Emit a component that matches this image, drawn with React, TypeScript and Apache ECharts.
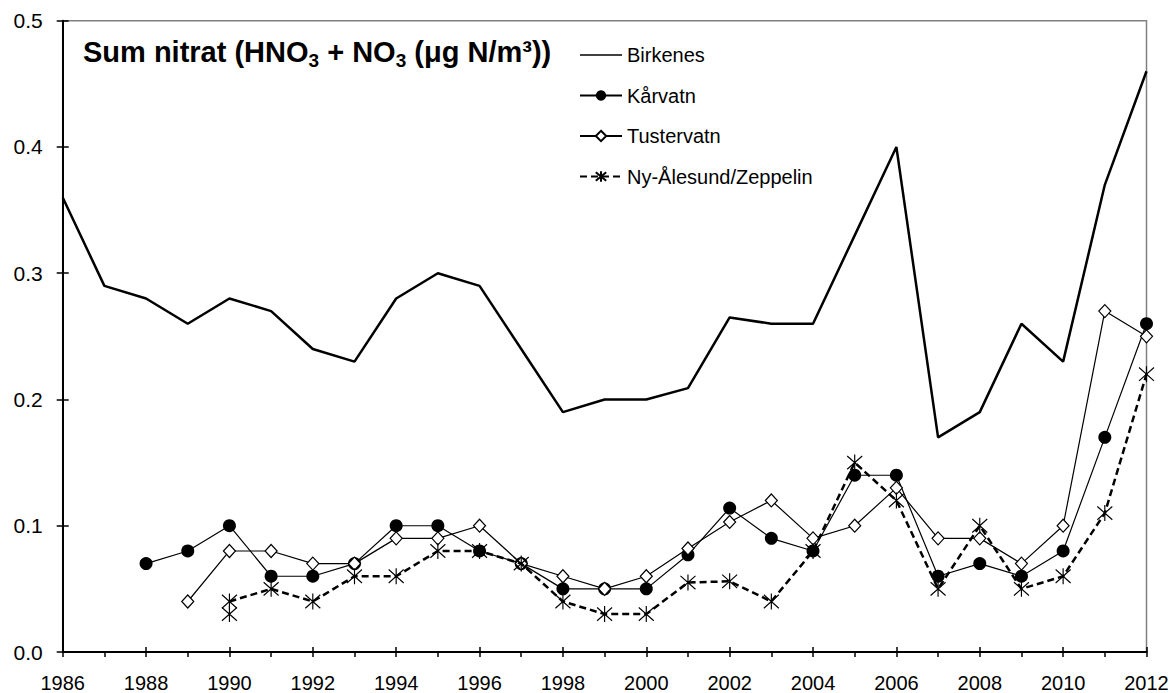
import React, { useEffect, useRef } from "react";
import * as echarts from "echarts";

const years = [1986, 1987, 1988, 1989, 1990, 1991, 1992, 1993, 1994, 1995, 1996, 1997, 1998, 1999, 2000, 2001, 2002, 2003, 2004, 2005, 2006, 2007, 2008, 2009, 2010, 2011, 2012];
const birkenes = [0.36, 0.29, 0.28, 0.26, 0.28, 0.27, 0.24, 0.23, 0.28, 0.30, 0.29, 0.24, 0.19, 0.20, 0.20, 0.209, 0.265, 0.26, 0.26, 0.33, 0.40, 0.17, 0.19, 0.26, 0.23, 0.37, 0.46];
const karvatn = [null, null, 0.07, 0.08, 0.10, 0.06, 0.06, 0.07, 0.10, 0.10, 0.08, 0.07, 0.05, 0.05, 0.05, 0.077, 0.114, 0.09, 0.08, 0.14, 0.14, 0.06, 0.07, 0.06, 0.08, 0.17, 0.26];
const tustervatn = [null, null, null, 0.04, 0.08, 0.08, 0.07, 0.07, 0.09, 0.09, 0.10, 0.07, 0.06, 0.05, 0.06, 0.082, 0.103, 0.12, 0.09, 0.10, 0.13, 0.09, 0.09, 0.07, 0.10, 0.27, 0.25];
const nyAlesund = [null, null, null, null, 0.04, 0.05, 0.04, 0.06, 0.06, 0.08, 0.08, 0.07, 0.04, 0.03, 0.03, 0.055, 0.056, 0.04, 0.08, 0.15, 0.12, 0.05, 0.10, 0.05, 0.06, 0.11, 0.22];
const nyAlesundExtraYears = [1990];
const nyAlesundExtra = [0.03];
const seriesNames = ["Birkenes", "Kårvatn", "Tustervatn", "Ny-Ålesund/Zeppelin"];

const FONT = "'Liberation Sans', Arial, sans-serif";
const ASTERISK = "path://M0,1L10,11M0,11L10,1M5,0L5,12";
const LINE_ICON = "path://M0,0L42,0L42,1.6L0,1.6Z";

function pairs(xs: number[], vals: (number | null)[]) {
  const out: number[][] = [];
  vals.forEach((v, i) => {
    if (v !== null && v !== undefined) out.push([xs[i], v]);
  });
  return out;
}

export default function App() {
  const ref = useRef<HTMLDivElement>(null);
  useEffect(() => {
    document.body.style.margin = "0";
    const chart = echarts.init(ref.current!, null, { renderer: "svg" });
    const common = {
      type: "value",
      min: 1986,
      max: 2012,
      interval: 2,
    };
    const option: any = {
      animation: false,
      backgroundColor: "#ffffff",
      title: {
        left: 78,
        top: 29,
        text: "{b|Sum nitrat (HNO}{s|3}{b| + NO}{s|3}{b| (μg N/m³))}",
        textStyle: {
          rich: {
            b: { fontFamily: FONT, fontWeight: "bold", fontSize: 29, lineHeight: 36, color: "#000" },
            s: { fontFamily: FONT, fontWeight: "bold", fontSize: 19, lineHeight: 14, verticalAlign: "bottom", color: "#000" },
          },
        },
      },
      legend: {
        data: [
          { name: seriesNames[0], icon: LINE_ICON },
          seriesNames[1],
          seriesNames[2],
          seriesNames[3],
        ],
        orient: "vertical",
        left: 579,
        top: 44,
        padding: 0,
        itemWidth: 42,
        itemHeight: 13,
        itemGap: 18.5,
        symbolKeepAspect: true,
        textStyle: { fontFamily: FONT, fontSize: 20, color: "#000", lineHeight: 22 },
      },
      grid: {
        left: 62.7,
        right: 29.5,
        top: 20.7,
        bottom: 40.3,
        show: true,
        borderColor: "#808080",
        borderWidth: 1.5,
        backgroundColor: "transparent",
      },
      xAxis: [
        {
          ...common,
          position: "bottom",
          axisLine: { show: true, lineStyle: { color: "#000", width: 2 } },
          axisTick: { show: true, inside: false, length: 5, lineStyle: { color: "#000", width: 1.5 } },
          minorTick: { show: true, splitNumber: 2, length: 5, lineStyle: { color: "#000", width: 1.5 } },
          splitLine: { show: false },
          axisLabel: {
            margin: 21,
            fontFamily: FONT,
            fontSize: 20,
            color: "#000",
            formatter: (v: number) => String(v),
          },
        },
        {
          ...common,
          position: "bottom",
          axisLine: { show: false },
          axisTick: { show: true, inside: true, length: 5, lineStyle: { color: "#000", width: 1.5 } },
          splitLine: { show: false },
          axisLabel: { show: false },
        },
      ],
      yAxis: [
        {
          type: "value",
          min: 0,
          max: 0.5,
          interval: 0.1,
          position: "left",
          axisLine: { show: true, lineStyle: { color: "#000", width: 2 } },
          axisTick: { show: true, inside: false, length: 6, lineStyle: { color: "#000", width: 1.5 } },
          splitLine: { show: false },
          axisLabel: {
            margin: 20,
            fontFamily: FONT,
            fontSize: 21,
            color: "#000",
            formatter: (v: number) => v.toFixed(1),
          },
        },
        {
          type: "value",
          min: 0,
          max: 0.5,
          interval: 0.1,
          position: "left",
          axisLine: { show: false },
          axisTick: { show: true, inside: true, length: 6, lineStyle: { color: "#000", width: 1.5 } },
          splitLine: { show: false },
          axisLabel: { show: false },
        },
      ],
      series: [
        {
          name: "Birkenes",
          type: "line",
          data: pairs(years, birkenes),
          showSymbol: false,
          symbol: "none",
          lineStyle: { color: "#000", width: 2.5 },
          itemStyle: { color: "#000" },
          z: 2,
        },
        {
          name: "Kårvatn",
          type: "line",
          data: pairs(years, karvatn),
          symbol: "circle",
          symbolSize: 13,
          lineStyle: { color: "#000", width: 1.2 },
          itemStyle: { color: "#000", borderColor: "#000", borderWidth: 0 },
          z: 3,
        },
        {
          name: "Tustervatn",
          type: "line",
          data: pairs(years, tustervatn),
          symbol: "diamond",
          symbolSize: [12, 13],
          lineStyle: { color: "#000", width: 1.2 },
          itemStyle: { color: "#fff", borderColor: "#000", borderWidth: 1.2 },
          z: 4,
        },
        {
          name: "Ny-Ålesund/Zeppelin",
          type: "line",
          data: pairs(years, nyAlesund),
          symbol: ASTERISK,
          symbolSize: [15, 16],
          lineStyle: { color: "#000", width: 2.5, type: [7, 4] },
          itemStyle: { color: "transparent", borderColor: "#000", borderWidth: 1.2 },
          z: 5,
        },
        {
          name: "Ny-Ålesund extra",
          type: "line",
          data: pairs(nyAlesundExtraYears, nyAlesundExtra),
          symbol: ASTERISK,
          symbolSize: [15, 16],
          lineStyle: { color: "#000", width: 2.5, type: [7, 4] },
          itemStyle: { color: "transparent", borderColor: "#000", borderWidth: 1.2 },
          z: 5,
        },
      ],
    };
    chart.setOption(option);
    return () => chart.dispose();
  }, []);
  return <div ref={ref} style={{ width: 1176, height: 693 }} />;
}
